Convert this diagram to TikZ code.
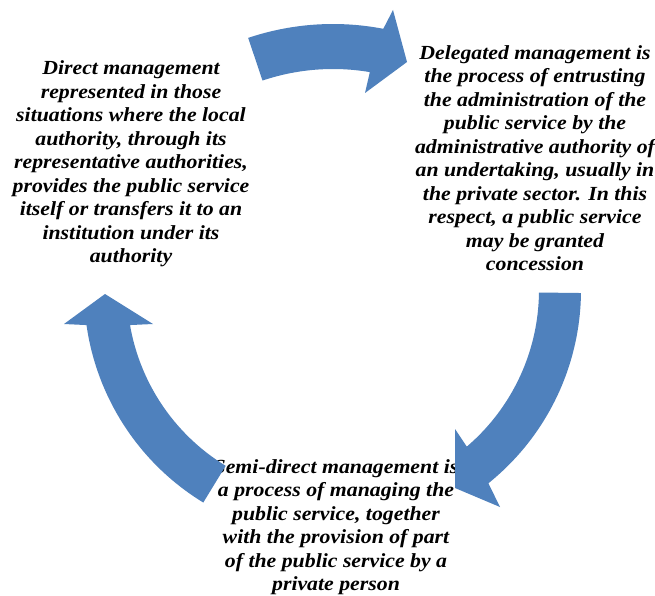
\documentclass[tikz,border=0pt]{standalone}
\usepackage{fontspec}
\setmainfont{Liberation Serif}[FakeStretch=1.09]
\definecolor{arrowblue}{RGB}{79,129,189}
\tikzset{
  txt/.style={align=center, inner sep=0pt, font=\fontsize{20}{23.5}\selectfont\bfseries\itshape, text=black},
  cyc/.style={fill=arrowblue}
}
\begin{document}
\begin{tikzpicture}[x=1pt,y=-1pt]
\useasboundingbox (0,0) rectangle (655,596);
\fill[white] (0,0) rectangle (655,596);
% texts
\node[txt] (direct) at (131,164) {Direct management\\represented in those\\situations where the local\\authority, through its\\representative authorities,\\provides the public service\\itself or transfers it to an\\institution under its\\authority};
\node[txt] (deleg) at (535,158) {Delegated management is\\the process of entrusting\\the administration of the\\public service by the\\administrative authority of\\an undertaking, usually in\\the private sector. In this\\respect, a public service\\may be granted\\concession};
\node[txt] (semi) at (336,527) {Semi-direct management is\\a process of managing the\\public service, together\\with the provision of part\\of the public service by a\\private person};
% top arrow
\fill[cyc] plot[domain=-108.6:-79.1, samples=30] ({333+266*cos(\x)},{290+266*sin(\x)})
  -- (393,10) -- (407,62) -- (365,93)
  -- plot[domain=-80.4:-108.6, samples=30] ({333+221*cos(\x)},{290+221*sin(\x)}) -- cycle;
% right arrow
\fill[cyc] plot[domain=0.7:51.2, samples=40] ({333+248*cos(\x)},{290+248*sin(\x)})
  -- (500,507) -- (455,488) -- (455,429)
  -- plot[domain=49.5:0.7, samples=40] ({333+206*cos(\x)},{290+206*sin(\x)}) -- cycle;
% left arrow
\fill[cyc] plot[domain=121.4:171.9, samples=40] ({333+249*cos(\x)},{290+249*sin(\x)})
  -- (64,324) -- (105,294) -- (153,324)
  -- plot[domain=170.2:121.4, samples=40] ({333+206*cos(\x)},{290+206*sin(\x)}) -- cycle;
\end{tikzpicture}
\end{document}
